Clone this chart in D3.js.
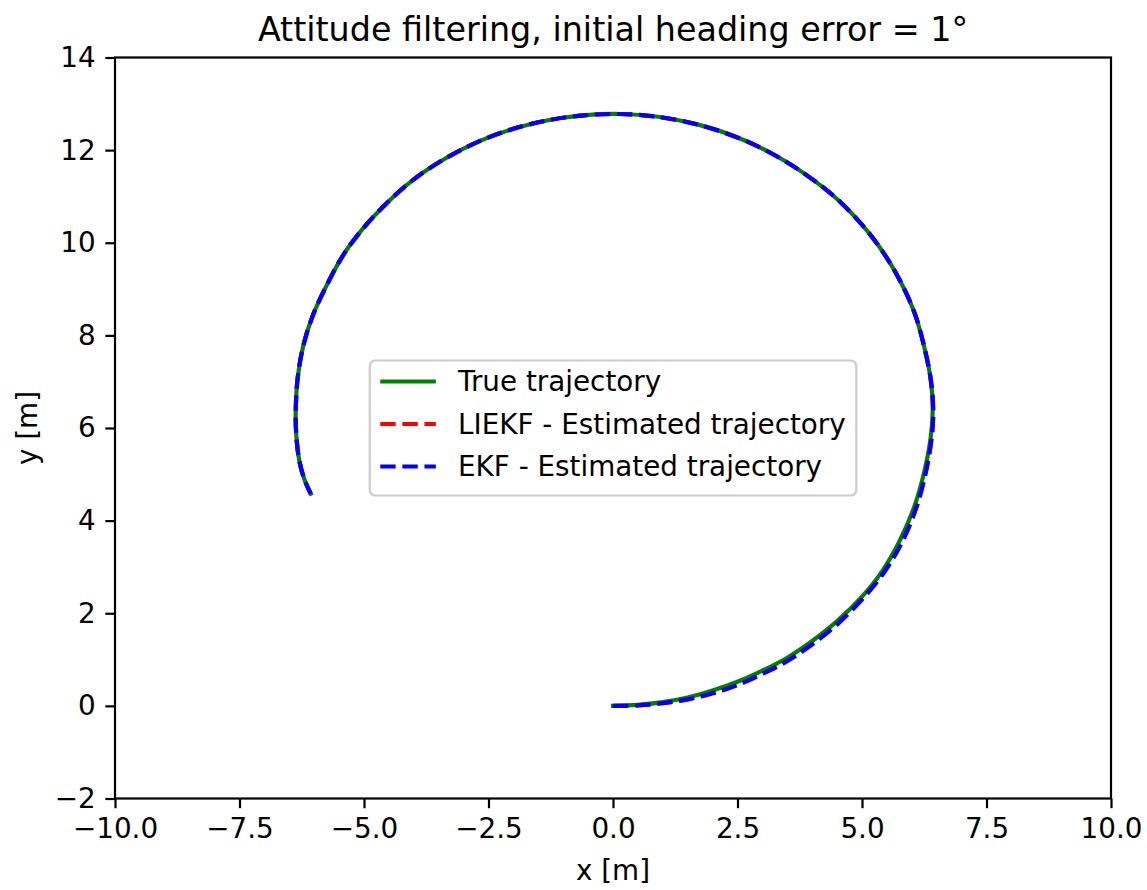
<!DOCTYPE html>
<html>
<head>
<meta charset="utf-8">
<script src="https://cdn.jsdelivr.net/npm/d3@7"></script>
<style>
  body { margin: 0; background: #fff; }
  svg { display: block; font-family: "DejaVu Sans", sans-serif; }
</style>
</head>
<body>
<div id="chart"></div>
<script>
// trajectory points (x, y in metres)
const trueX  = [0, 0.5, 1.0, 1.5, 2.0, 2.5, 3.0, 3.5, 4.0, 4.5, 5.0, 5.4, 5.75, 6.05, 6.25, 6.38, 6.42, 6.38, 6.25, 6.05, 5.7, 5.29, 4.9, 4.42, 3.9, 3.35, 2.6, 1.75, 0.9, 0.14, -0.6, -1.33, -2.0, -2.67, -3.35, -4.0, -4.55, -5.01, -5.42, -5.75, -6.02, -6.22, -6.33, -6.37, -6.36, -6.3, -6.2, -6.07];
const trueY  = [0, 0.02, 0.08, 0.18, 0.33, 0.52, 0.76, 1.04, 1.40, 1.83, 2.36, 2.90, 3.55, 4.30, 5.05, 5.80, 6.40, 7.05, 7.75, 8.50, 9.31, 10.00, 10.51, 11.02, 11.45, 11.83, 12.23, 12.54, 12.72, 12.78, 12.75, 12.64, 12.46, 12.20, 11.83, 11.37, 10.85, 10.32, 9.73, 9.08, 8.45, 7.77, 7.10, 6.40, 5.85, 5.30, 4.90, 4.58];

const liekfX = [0, 0.5, 1.0, 1.5, 2.0, 2.5, 3.0, 3.5, 4.0, 4.5, 5.0, 5.44, 5.8, 6.09, 6.28, 6.40, 6.43, 6.38, 6.25, 6.05, 5.7, 5.29, 4.9, 4.42, 3.9, 3.35, 2.6, 1.75, 0.9, 0.14, -0.6, -1.33, -2.0, -2.67, -3.35, -4.0, -4.55, -5.01, -5.42, -5.75, -6.02, -6.22, -6.33, -6.37, -6.36, -6.3, -6.2, -6.07];
const liekfY = [0, 0.01, 0.06, 0.14, 0.27, 0.45, 0.69, 0.97, 1.33, 1.76, 2.30, 2.88, 3.53, 4.28, 5.04, 5.80, 6.40, 7.05, 7.75, 8.50, 9.31, 10.00, 10.51, 11.02, 11.45, 11.83, 12.23, 12.54, 12.72, 12.78, 12.75, 12.64, 12.46, 12.20, 11.83, 11.37, 10.85, 10.32, 9.73, 9.08, 8.45, 7.77, 7.10, 6.40, 5.85, 5.30, 4.90, 4.58];

const ekfX   = [0, 0.5, 1.0, 1.5, 2.0, 2.5, 3.0, 3.5, 4.0, 4.5, 5.0, 5.44, 5.8, 6.09, 6.28, 6.40, 6.43, 6.38, 6.25, 6.05, 5.7, 5.29, 4.9, 4.42, 3.9, 3.35, 2.6, 1.75, 0.9, 0.14, -0.6, -1.33, -2.0, -2.67, -3.35, -4.0, -4.55, -5.01, -5.42, -5.75, -6.02, -6.22, -6.33, -6.37, -6.36, -6.3, -6.2, -6.07];
const ekfY   = [0, 0.01, 0.06, 0.14, 0.27, 0.45, 0.69, 0.97, 1.33, 1.76, 2.30, 2.88, 3.53, 4.28, 5.04, 5.80, 6.40, 7.05, 7.75, 8.50, 9.31, 10.00, 10.51, 11.02, 11.45, 11.83, 12.23, 12.54, 12.72, 12.78, 12.75, 12.64, 12.46, 12.20, 11.83, 11.37, 10.85, 10.32, 9.73, 9.08, 8.45, 7.77, 7.10, 6.40, 5.85, 5.30, 4.90, 4.58];

const xTicks = [-10, -7.5, -5, -2.5, 0, 2.5, 5, 7.5, 10];
const yTicks = [-2, 0, 2, 4, 6, 8, 10, 12, 14];

const series = [
    { name: "True trajectory", xs: trueX, ys: trueY, color: "green", dashed: false },
    { name: "LIEKF - Estimated trajectory", xs: liekfX, ys: liekfY, color: "red", dashed: true },
    { name: "EKF - Estimated trajectory", xs: ekfX, ys: ekfY, color: "blue", dashed: true }
];

const width = 1147, height = 890;
const margin = { left: 115, right: 36, top: 57.5, bottom: 91.5 };
const fs = 27.8;          // 10pt at 200 dpi
const lw = 4.17;          // 1.5pt
const dash = "15.4,6.7";

const svg = d3.select("#chart").append("svg")
    .attr("width", width)
    .attr("height", height);

const x = d3.scaleLinear().domain([-10, 10]).range([margin.left, width - margin.right]);
const y = d3.scaleLinear().domain([-2, 14]).range([height - margin.bottom, margin.top]);

// axes
const xAxis = svg.append("g")
    .attr("transform", `translate(0,${height - margin.bottom})`)
    .call(d3.axisBottom(x).tickValues(xTicks).tickFormat(d3.format(".1f")).tickSize(9.7).tickPadding(9.7));

const yAxis = svg.append("g")
    .attr("transform", `translate(${margin.left},0)`)
    .call(d3.axisLeft(y).tickValues(yTicks).tickFormat(d3.format("d")).tickSize(9.7).tickPadding(9.7));

[xAxis, yAxis].forEach(a => {
    a.select(".domain").remove();
    a.selectAll(".tick line").attr("stroke", "#000").attr("stroke-width", 2.2);
    a.selectAll(".tick text")
        .attr("fill", "#000")
        .style("font-size", fs + "px")
        .style("font-family", "DejaVu Sans, sans-serif");
});

// trajectories
const line = d3.line()
    .x(d => x(d[0]))
    .y(d => y(d[1]))
    .curve(d3.curveCatmullRom.alpha(0.5));

series.forEach(s => {
    svg.append("path")
        .datum(d3.zip(s.xs, s.ys))
        .attr("fill", "none")
        .attr("stroke", s.color)
        .attr("stroke-width", lw)
        .attr("stroke-dasharray", s.dashed ? dash : null)
        .attr("stroke-linecap", s.dashed ? "butt" : "square")
        .attr("d", line);
});

// frame
svg.append("rect")
    .attr("x", margin.left)
    .attr("y", margin.top)
    .attr("width", width - margin.left - margin.right)
    .attr("height", height - margin.top - margin.bottom)
    .attr("fill", "none")
    .attr("stroke", "#000")
    .attr("stroke-width", 2.2);

// title and axis labels
svg.append("text")
    .attr("x", (x.range()[0] + x.range()[1]) / 2)
    .attr("y", 41)
    .attr("text-anchor", "middle")
    .style("font-size", (fs * 1.2) + "px")
    .text("Attitude filtering, initial heading error = 1°");

svg.append("text")
    .attr("x", (x.range()[0] + x.range()[1]) / 2)
    .attr("y", 880)
    .attr("text-anchor", "middle")
    .style("font-size", fs + "px")
    .text("x [m]");

svg.append("text")
    .attr("transform", `translate(37,${(y.range()[0] + y.range()[1]) / 2}) rotate(-90)`)
    .attr("text-anchor", "middle")
    .style("font-size", fs + "px")
    .text("y [m]");

// legend, centred in the axes
const cx = (x.range()[0] + x.range()[1]) / 2;
const cy = (y.range()[0] + y.range()[1]) / 2;
const rowH = 42.5;
const handleLen = 55.6, handlePad = 22.2, pad = 10.5;

const leg = svg.append("g");
const box = leg.append("rect");
const labels = series.map((s, i) => leg.append("text")
    .style("font-size", fs + "px")
    .attr("dominant-baseline", "central")
    .text(s.name));
const maxW = d3.max(labels, t => t.node().getComputedTextLength());
const boxW = pad * 2 + handleLen + handlePad + maxW;
const boxH = 135;
const bx = cx - boxW / 2, by = cy - boxH / 2;

box.attr("x", bx).attr("y", by)
    .attr("width", boxW).attr("height", boxH)
    .attr("rx", 5.5)
    .attr("fill", "#fff").attr("fill-opacity", 0.8)
    .attr("stroke", "#cccccc").attr("stroke-width", 2.2);

series.forEach((s, i) => {
    const ry = by + 21 + i * rowH;
    leg.append("line")
        .attr("x1", bx + pad).attr("x2", bx + pad + handleLen)
        .attr("y1", ry).attr("y2", ry)
        .attr("stroke", s.color)
        .attr("stroke-width", lw)
        .attr("stroke-dasharray", s.dashed ? dash : null);
    labels[i].attr("x", bx + pad + handleLen + handlePad).attr("y", ry);
});
</script>
</body>
</html>
